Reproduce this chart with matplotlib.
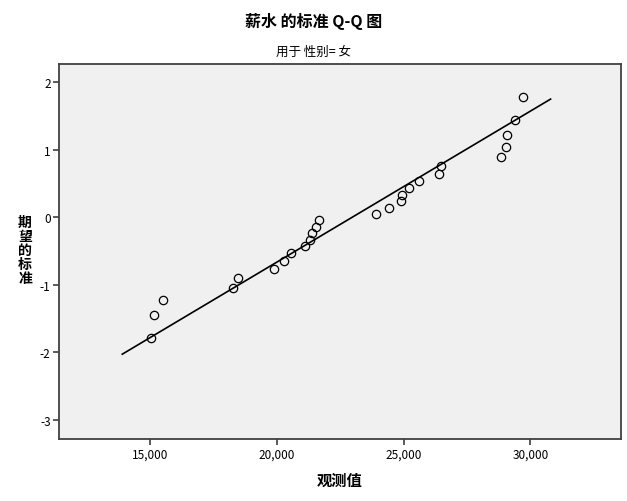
import matplotlib
matplotlib.use("Agg")
import matplotlib.pyplot as plt
import numpy as np

plt.rcParams['font.family'] = ['Noto Sans CJK SC', 'DejaVu Sans']

# observed salaries (sorted) and their expected normal values
observed = [15016, 15154, 15501, 18261, 18454, 19905, 20272, 20556, 21116,
            21325, 21404, 21562, 21652, 23908, 24440, 24886, 24941, 25229,
            25596, 26412, 26491, 28857, 29042, 29082, 29397, 29697]
expected = [-1.786, -1.446, -1.221, -1.045, -0.896, -0.765, -0.646, -0.535,
            -0.431, -0.331, -0.234, -0.140, -0.046, 0.046, 0.140, 0.234,
            0.331, 0.431, 0.535, 0.646, 0.765, 0.896, 1.045, 1.221, 1.446,
            1.786]

# reference line (mean / std dev of the sample)
line_mean = 22970
line_sd = 4470
line_x = [13900, 30800]

x_ticks = [15000, 20000, 25000, 30000]
y_ticks = [-3, -2, -1, 0, 1, 2]

fig = plt.figure(figsize=(6.27, 5.02), dpi=100)
ax = fig.add_axes([59 / 627, 1 - 440 / 502, 562 / 627, 375.3 / 502])
ax.set_facecolor('#f0f0f0')

lx = np.array(line_x)
ax.plot(lx, (lx - line_mean) / line_sd, color='black', lw=1.2, zorder=2)
ax.plot(observed, expected, 'o', mfc='none', mec='black', ms=6, mew=0.9,
        zorder=3)

ax.set_xlim(11404, 33577)
ax.set_ylim(-3.286, 2.276)
ax.set_xticks(x_ticks)
ax.set_xticklabels([f"{v:,}" for v in x_ticks])
ax.set_yticks(y_ticks)
ax.set_yticklabels([str(v) for v in y_ticks])

for s in ['top', 'right', 'left', 'bottom']:
    ax.spines[s].set_color('#404040')
    ax.spines[s].set_linewidth(1.3)
ax.tick_params(direction='out', length=4, width=1.2, color='#404040',
               labelsize=8.5, labelcolor='black', pad=2)

ax.set_xlabel('观测值', fontsize=11, fontweight='bold', labelpad=8)
fig.text(25 / 627, 1 - 251 / 502, '\n'.join('期望的标准'), fontsize=10,
         fontweight='bold', ha='center', va='center', linespacing=1.0)

fig.text(0.5, 1 - 22 / 502, '薪水 的标准 Q-Q 图', fontsize=11.5,
         fontweight='bold', ha='center', va='center')
fig.text(0.5, 1 - 52 / 502, '用于 性别= 女', fontsize=9, ha='center',
         va='center')

fig.savefig('out.png', dpi=100)
